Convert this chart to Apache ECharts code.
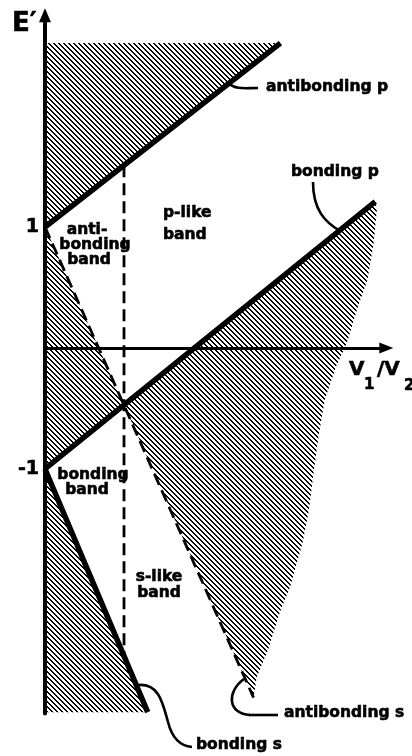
<!DOCTYPE html>
<html>
<head>
<meta charset="utf-8">
<script src="https://cdn.jsdelivr.net/npm/echarts@6/dist/echarts.min.js"></script>
<style>
html, body { margin: 0; padding: 0; background: #fff; }
#chart { width: 412px; height: 756px; }
</style>
</head>
<body>
<div id="chart"></div>
<script>
// band edges (x = V1/V2, y = E')
var antibondingP = [[0, 1], [1.49, 2.52]];
var bondingP = [[0, -1], [2.09, 1.21]];
var antibondingS = [[0, 1], [1.32, -2.89]];
var bondingS = [[0, -1], [0.65, -3.01]];
var crossLine = [[0.5, 1.51], [0.5, -2.55]];

// hatched regions
var topHatch = [[0, 1], [0, 2.52], [1.49, 2.52]];
var antiBandHatch = [[0, 1], [0.5, -0.47], [0, -1]];
var bottomHatch = [[0, -1], [0.65, -3.01], [0, -3.01]];
var rightEdge = [[2.09, 1.21], [2.10, 1.14], [2.08, 0.87], [2.04, 0.56], [1.98, 0.34],
    [1.91, 0.04], [1.84, -0.16], [1.77, -0.43], [1.73, -0.74], [1.70, -1.03],
    [1.67, -1.34], [1.63, -1.61], [1.55, -1.98], [1.49, -2.17], [1.41, -2.50],
    [1.34, -2.72], [1.32, -2.89]];
var rightHatch = [[0.5, -0.47]].concat(rightEdge);

var yTicks = [-1, 1];

var FONT = '"DejaVu Sans", sans-serif';

// diagonal hatch tile, drawn pixel by pixel so the stripes stay crisp
// (transparent background so the axis shows through)
function makeHatch() {
    var n = 5;
    var c = document.createElement('canvas');
    c.width = n; c.height = n;
    var ctx = c.getContext('2d');
    ctx.fillStyle = '#000';
    for (var i = 0; i < n; i++) {
        ctx.fillRect(i, i, 1, 1);
        ctx.fillRect((i + 1) % n, i, 1, 1);
    }
    return { image: c, repeat: 'repeat' };
}
var hatch = makeHatch();
var hatchRegions = [topHatch, antiBandHatch, rightHatch, bottomHatch];

function edge(name, data, dashed) {
    return {
        name: name,
        type: 'line',
        data: data,
        symbol: 'none',
        silent: true,
        z: 3,
        lineStyle: {
            color: '#000',
            width: dashed ? 2.8 : 5.5,
            type: dashed ? [12, 6] : 'solid',
            cap: 'butt'
        }
    };
}

function txt(text, x, y, size, align) {
    return {
        type: 'text',
        z: 10,
        style: {
            text: text, x: x, y: y,
            font: 'bold ' + size + 'px ' + FONT,
            fill: '#000',
            stroke: '#000',
            lineWidth: 0.6,
            align: align || 'left',
            verticalAlign: 'middle'
        }
    };
}

function curve(x1, y1, cx1, cy1, cx2, cy2, x2, y2) {
    return {
        type: 'bezierCurve',
        z: 10,
        shape: { x1: x1, y1: y1, cpx1: cx1, cpy1: cy1, cpx2: cx2, cpy2: cy2, x2: x2, y2: y2 },
        style: { stroke: '#000', lineWidth: 2.6, fill: null }
    };
}

var myChart = echarts.init(document.getElementById('chart'));
var option = {
    animation: false,
    backgroundColor: '#fff',
    grid: { left: 45, right: 25.7, top: 15.25, bottom: 42.6 },
    xAxis: {
        type: 'value',
        min: 0,
        max: 2.16,
        axisLine: {
            onZero: true,
            lineStyle: { color: '#000', width: 3 },
            symbol: ['none', 'triangle'],
            symbolSize: [11, 14]
        },
        axisTick: { show: false },
        axisLabel: { show: false },
        splitLine: { show: false }
    },
    yAxis: {
        type: 'value',
        min: -3.02,
        max: 2.75,
        axisLine: {
            show: true,
            lineStyle: { color: '#000', width: 4 },
            symbol: ['none', 'triangle'],
            symbolSize: [12, 14]
        },
        axisTick: { show: false },
        axisLabel: {
            customValues: yTicks,
            color: '#000',
            fontSize: 19,
            fontWeight: 'bold',
            fontFamily: FONT,
            textBorderColor: '#000',
            textBorderWidth: 0.6,
            margin: 6
        },
        splitLine: { show: false }
    },
    series: [
        {
            type: 'custom',
            coordinateSystem: 'cartesian2d',
            silent: true,
            z: 1,
            data: hatchRegions.map(function (r) { return r[0]; }),
            renderItem: function (params, api) {
                var pts = hatchRegions[params.dataIndex].map(function (p) {
                    return api.coord(p);
                });
                return { type: 'polygon', shape: { points: pts }, style: { fill: hatch } };
            }
        },
        edge('antibonding p', antibondingP, false),
        edge('bonding p', bondingP, false),
        edge('bonding s', bondingS, false),
        edge('antibonding s', antibondingS, true),
        edge('cross', crossLine, true)
    ],
    graphic: [
        txt('E\u2032', 12, 24, 26),
        txt('V', 349, 370, 20),
        txt('1', 364, 385, 15),
        txt('/V', 377, 370, 20),
        txt('2', 404, 386, 15),
        txt('antibonding p', 266, 87, 15.5),
        txt('bonding p', 291, 172, 15.5),
        txt('p-like', 163, 213, 15.5),
        txt('band', 163, 235, 15.5),
        txt('anti-', 87, 230, 15.5, 'center'),
        txt('bonding', 95, 245, 15.5, 'center'),
        txt('band', 89, 260, 15.5, 'center'),
        txt('bonding', 93, 475, 15.5, 'center'),
        txt('band', 87, 490, 15.5, 'center'),
        txt('s-like', 159, 577, 15.5, 'center'),
        txt('band', 159, 593, 15.5, 'center'),
        txt('antibonding s', 284, 713, 15.5),
        txt('bonding s', 196, 745, 15.5),
        curve(228, 83, 236, 90, 245, 88, 258, 88),
        curve(313, 182, 313, 210, 325, 222, 340, 231),
        curve(244, 679, 226, 692, 228, 714, 250, 715),
        { type: 'line', z: 10, shape: { x1: 249, y1: 715, x2: 278, y2: 715 }, style: { stroke: '#000', lineWidth: 2.6 } },
        curve(138, 685, 160, 683, 163, 705, 168, 722),
        curve(168, 722, 172, 738, 180, 746, 192, 747)
    ]
};
myChart.setOption(option);
window.addEventListener('resize', function () {
    myChart.resize();
});
</script>
</body>
</html>
